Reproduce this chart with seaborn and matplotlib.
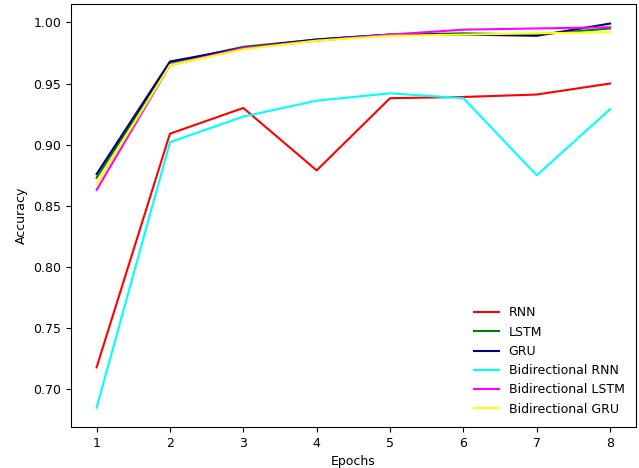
import pandas as pd
import matplotlib
matplotlib.use('Agg')
import matplotlib.pyplot as plt
import seaborn as sns

# Accuracy per epoch for each model
epochs = [1, 2, 3, 4, 5, 6, 7, 8]
rnn = [0.718, 0.909, 0.930, 0.879, 0.938, 0.939, 0.941, 0.950]
lstm = [0.873, 0.967, 0.980, 0.986, 0.990, 0.991, 0.990, 0.995]
gru = [0.876, 0.968, 0.979, 0.986, 0.990, 0.990, 0.989, 0.999]
bi_rnn = [0.685, 0.902, 0.923, 0.936, 0.942, 0.938, 0.875, 0.929]
bi_lstm = [0.863, 0.965, 0.979, 0.985, 0.990, 0.994, 0.995, 0.996]
bi_gru = [0.868, 0.965, 0.978, 0.985, 0.989, 0.990, 0.991, 0.992]

models = ['RNN', 'LSTM', 'GRU', 'Bidirectional RNN', 'Bidirectional LSTM', 'Bidirectional GRU']
series = [rnn, lstm, gru, bi_rnn, bi_lstm, bi_gru]
colors = ['red', 'green', 'darkblue', 'cyan', 'magenta', 'yellow']

# long-form table for seaborn
rows = []
for name, vals in zip(models, series):
    for e, v in zip(epochs, vals):
        rows.append({'Epochs': e, 'Accuracy': v, 'Model': name})
df = pd.DataFrame(rows)

plt.rcParams['font.size'] = 9

fig = plt.figure(figsize=(6.39, 4.68), dpi=100)
ax = fig.add_axes([0.111, 0.0877, 0.884, 0.903])
sns.lineplot(data=df, x='Epochs', y='Accuracy', hue='Model', hue_order=models,
             palette=dict(zip(models, colors)), linewidth=1.5, ax=ax)
ax.set_xticks(epochs)
ax.legend(loc='lower right', frameon=False, borderaxespad=0.5, labelspacing=0.5)

plt.savefig('out.png', dpi=100)
